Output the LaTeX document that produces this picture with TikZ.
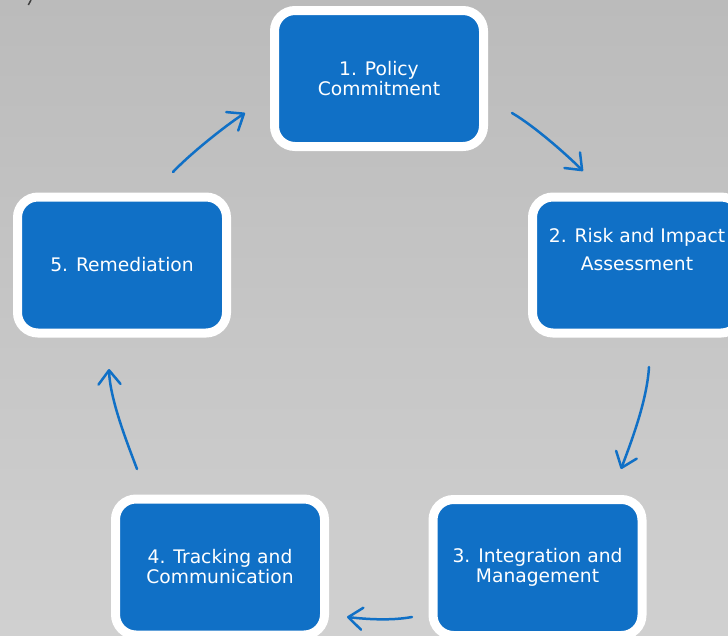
\documentclass[tikz,border=0pt]{standalone}
\usepackage{fontspec}
\setmainfont{DejaVu Sans}
\usetikzlibrary{arrows.meta}
\definecolor{boxblue}{RGB}{16,112,198}
\definecolor{bgtop}{RGB}{187,187,187}
\definecolor{bgbot}{RGB}{208,208,208}
\begin{document}
\begin{tikzpicture}[x=1pt,y=-1pt,
  stepbox/.style={rectangle, rounded corners=20.5pt, fill=boxblue, draw=white,
    line width=9pt, minimum width=209pt, minimum height=136pt, inner sep=0pt,
    text=white, align=center, font=\fontsize{18.7}{20}\selectfont},
  boxtext/.style={inner sep=0pt, text=white, align=center, font=\fontsize{18.7}{28}\selectfont},
  flow/.style={draw=boxblue, line width=2.5pt, line cap=round,
    -{Straight Barb[length=14pt,width=22pt,line cap=round,line join=round]}}]
\useasboundingbox (0,0) rectangle (728,635);
\clip (0,0) rectangle (728,635);
\shade[top color=bgtop, bottom color=bgbot] (0,0) rectangle (728,635);
\draw[black!75, line width=1.5pt] (28.3,5) -- (31,0);

\node[stepbox] (b1) at (379,78.5) {1. Policy\\Commitment};
\node[stepbox] (b2) at (637,265) {};
\node[boxtext] (b2t) at (637,250) {2. Risk and Impact\\Assessment};
\node[stepbox] (b3) at (537.5,567.5) {3. Integration and\\Management};
\node[stepbox] (b4) at (220,567) {4. Tracking and\\Communication};
\node[stepbox] (b5) at (122,265) {5. Remediation};

\coordinate (a1s) at (512,113);
\coordinate (a1e) at (583,171);
\coordinate (a2s) at (649,367);
\coordinate (a2e) at (621,469);
\coordinate (a3s) at (412,617);
\coordinate (a3e) at (347,617);
\coordinate (a4s) at (137,469);
\coordinate (a4e) at (109,369);
\coordinate (a5s) at (173,172);
\coordinate (a5e) at (245,113);

\draw[flow] (a1s) .. controls (533.5,125.5) and (565.5,153.5) .. (a1e);
\draw[flow] (a2s) .. controls (647,400) and (632,440) .. (a2e);
\draw[flow] (a3s) .. controls (390,621) and (365,619) .. (a3e);
\draw[flow] (a4s) .. controls (128,445) and (110,400) .. (a4e);
\draw[flow] (a5s) .. controls (190,154) and (225,126) .. (a5e);
\end{tikzpicture}
\end{document}
